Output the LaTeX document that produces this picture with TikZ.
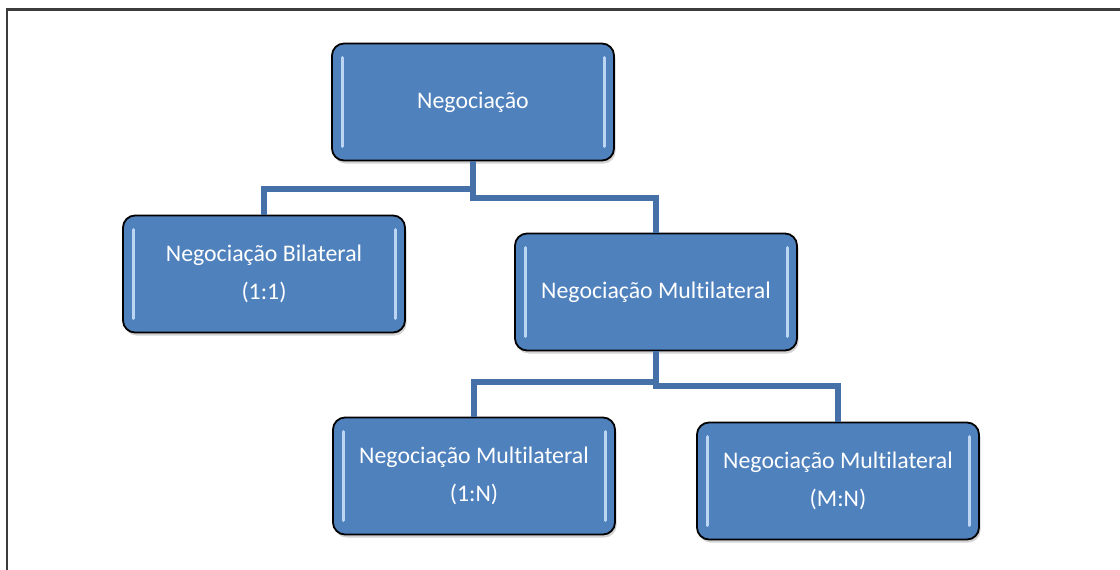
\documentclass[tikz,border=0pt]{standalone}
\usepackage{fontspec}
\setmainfont{Carlito}[Ligatures={NoCommon}]
\usepackage{tikz}
\usetikzlibrary{shadows}
\definecolor{boxblue}{HTML}{4F81BD}
\definecolor{lineblue}{HTML}{4671A8}
\definecolor{glow}{HTML}{BBD5F3}
\definecolor{framegray}{HTML}{3C3C3C}
\tikzstyle{box} = [draw=black, line width=1.8pt, rounded corners=12pt, fill=boxblue,
	minimum width=282pt, minimum height=117pt, align=center, text=white,
	font={\fontsize{23.8}{38}\selectfont},
	drop shadow={opacity=0.35, shadow xshift=1.5pt, shadow yshift=-3pt},
	path picture={
		\draw[glow, line width=3pt, line cap=round]
			([xshift=10pt,yshift=-14pt]path picture bounding box.north west) --
			([xshift=10pt,yshift=14pt]path picture bounding box.south west)
			([xshift=-10pt,yshift=-14pt]path picture bounding box.north east) --
			([xshift=-10pt,yshift=14pt]path picture bounding box.south east);
	}]
\tikzstyle{link} = [draw=lineblue, line width=6pt]

\begin{document}
\begin{tikzpicture}[x=1pt, y=-1pt]
			\useasboundingbox (0, 0) rectangle (1120, 570);
			\draw[framegray, line width=2.5pt] (7, 571) -- (7, 9.5) -- (1121, 9.5);
			
			\node[box](neg) at (473, 102){Negociação};
			\node[box](bil) at (264, 274){Negociação Bilateral\\(1:1)};
			\node[box](mul) at (656, 292){Negociação Multilateral};
			\node[box](umn) at (474, 476){Negociação Multilateral\\(1:N)};
			\node[box](mmn) at (838, 481){Negociação Multilateral\\(M:N)};
			
			\draw[link] (neg.south) -- ++(0, 28) -| (bil.north);
			\draw[link] (neg.south) -- ++(0, 37) -| (mul.north);
			\draw[link] (mul.south) -- ++(0, 31) -| (umn.north);
			\draw[link] (mul.south) -- ++(0, 35) -| (mmn.north);
		\end{tikzpicture}
\end{document}
